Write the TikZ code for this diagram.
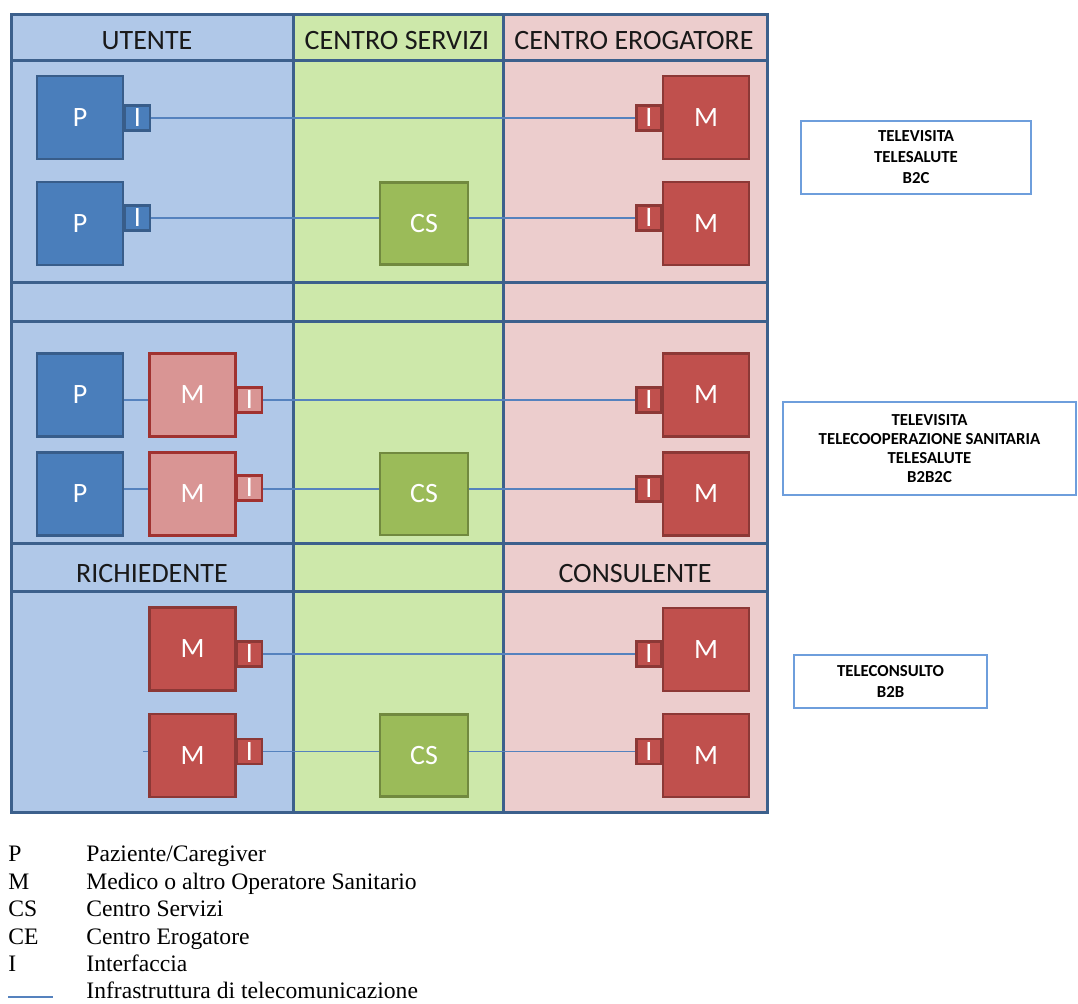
\documentclass[tikz,border=0pt]{standalone}
\usepackage{fontspec}
\setmainfont{Liberation Serif}
\newfontfamily\carl{Carlito}
\definecolor{colblue}{RGB}{176,200,232}
\definecolor{colgreen}{RGB}{205,232,170}
\definecolor{colpink}{RGB}{236,205,205}
\definecolor{gridc}{RGB}{60,96,140}
\definecolor{pfill}{RGB}{74,126,187}
\definecolor{pdraw}{RGB}{56,93,138}
\definecolor{mfill}{RGB}{192,80,77}
\definecolor{mdraw}{RGB}{140,56,54}
\definecolor{mlfill}{RGB}{217,149,148}
\definecolor{mldraw}{RGB}{160,50,48}
\definecolor{csfill}{RGB}{155,187,89}
\definecolor{csdraw}{RGB}{113,137,63}
\definecolor{linkc}{RGB}{85,130,190}
\definecolor{tagc}{RGB}{110,158,220}
\definecolor{headc}{RGB}{25,25,25}
\begin{document}
\begin{tikzpicture}[x=0.5pt,y=-0.5pt,
  box/.style={draw, line width=1.2pt, inner sep=0pt, text=white,
    font=\carl\fontsize{14}{16}\selectfont},
  bigbox/.style={box, minimum width=43pt, minimum height=41.5pt},
  pbox/.style={bigbox, fill=pfill, draw=pdraw},
  mbox/.style={bigbox, fill=mfill, draw=mdraw},
  mlbox/.style={bigbox, fill=mlfill, draw=mldraw},
  csbox/.style={box, fill=csfill, draw=csdraw, minimum width=44pt, minimum height=41pt},
  ibox/.style={box, minimum width=12.5pt, minimum height=12.5pt},
  ipbox/.style={ibox, fill=pfill, draw=pdraw},
  imbox/.style={ibox, fill=mfill, draw=mdraw},
  imlbox/.style={ibox, fill=mlfill, draw=mldraw},
  link/.style={draw=linkc, line width=0.75pt},
  head/.style={anchor=base, text=headc, inner sep=0pt, font=\carl\fontsize{14}{16}\selectfont},
  tag/.style={draw=tagc, line width=1pt, fill=white, align=center, inner sep=0pt,
    font=\carl\bfseries\fontsize{8.4}{10.5}\selectfont},
  leg/.style={anchor=base west, inner sep=0pt, font=\fontsize{11.8}{13}\selectfont}
]
\useasboundingbox (0,0) rectangle (1078,1003);
% columns
\fill[colblue] (11,14) rectangle (293,812);
\fill[colgreen] (293,14) rectangle (503,812);
\fill[colpink] (503,14) rectangle (767,812);
\begin{scope}[draw=gridc, line width=1.5pt]
\draw (11,14) rectangle (767,812);
\draw (293,14) -- (293,812);
\draw (503,14) -- (503,812);
\foreach \yy in {60,282,321,543,591} \draw (11,\yy) -- (767,\yy);
\end{scope}
% headers
\node[head] (hu) at (147,49) {UTENTE};
\node[head] (hcs) at (397,49) {CENTRO SERVIZI};
\node[head] (hce) at (634,49) {CENTRO EROGATORE};
\node[head] (hr) at (152,582) {RICHIEDENTE};
\node[head] (hc) at (635,582) {CONSULENTE};

% ---- section 1, row 1
\node[ipbox] (i1l) at (137.5,118) {I};
\node[pbox] (p1) at (80,117.5) {P};
\node[imbox] (i1r) at (649,118) {I};
\node[mbox] (m1r) at (706,117.5) {M};
\draw[link] (i1l) -- (i1r);
% ---- section 1, row 2
\node[ipbox] (i2l) at (137.5,218) {I};
\node[pbox] (p2) at (80,223.5) {P};
\node[csbox] (cs2) at (424,223.5) {CS};
\node[imbox] (i2r) at (649,218) {I};
\node[mbox] (m2r) at (706,223.5) {M};
\draw[link] (i2l) -- (cs2.west |- i2l);
\draw[link] (cs2.east |- i2l) -- (i2r);

% ---- section 2, row 1
\node[pbox] (p3) at (80,395) {P};
\node[imlbox] (i3l) at (249.5,400) {I};
\node[mlbox] (m3l) at (192.5,395) {M};
\node[imbox] (i3r) at (649,400) {I};
\node[mbox] (m3r) at (706,395) {M};
\draw[link] (p3.east |- i3l) -- (m3l.west |- i3l);
\draw[link] (i3l) -- (i3r);
% ---- section 2, row 2
\node[pbox] (p4) at (80,494) {P};
\node[imlbox] (i4l) at (249.5,488) {I};
\node[mlbox] (m4l) at (192.5,494) {M};
\node[csbox] (cs4) at (424,494) {CS};
\node[imbox] (i4r) at (649,489) {I};
\node[mbox] (m4r) at (706,494) {M};
\draw[link] (p4.east |- i4r) -- (m4l.west |- i4r);
\draw[link] (i4l.east |- i4r) -- (cs4.west |- i4r);
\draw[link] (cs4.east |- i4r) -- (i4r);

% ---- section 3, row 1
\node[imbox] (i5l) at (249.5,654) {I};
\node[mbox] (m5l) at (192.5,649) {M};
\node[imbox] (i5r) at (649,654) {I};
\node[mbox] (m5r) at (706,649.5) {M};
\draw[link] (i5l) -- (i5r);
% ---- section 3, row 2
\coordinate (stub) at (143,751.5);
\node[imbox] (i6l) at (249.5,751.5) {I};
\node[mbox] (m6l) at (192.5,755.5) {M};
\node[csbox] (cs6) at (424,755.5) {CS};
\node[imbox] (i6r) at (649,751.5) {I};
\node[mbox] (m6r) at (706,755.5) {M};
\draw[link] (stub) -- (m6l.west |- stub);
\draw[link] (i6l) -- (cs6.west |- i6l);
\draw[link] (cs6.east |- i6l) -- (i6r);

% ---- tags
\node[tag, minimum width=115pt, minimum height=36.5pt] (t1) at (916,157.5)
  {TELEVISITA\\TELESALUTE\\B2C};
\node[tag, minimum width=146.5pt, minimum height=46.5pt,
  font=\carl\bfseries\fontsize{8.4}{9.5}\selectfont] (t2) at (929.5,448.5)
  {TELEVISITA\\TELECOOPERAZIONE SANITARIA\\TELESALUTE\\B2B2C};
\node[tag, minimum width=96.5pt, minimum height=26.5pt] (t3) at (890.5,681.5)
  {TELECONSULTO\\B2B};

% ---- legend
\node[leg] (k1) at (8,861) {P};
\node[leg] (v1) at (86,861) {Paziente/Caregiver};
\node[leg] (k2) at (8,889) {M};
\node[leg] (v2) at (86,889) {Medico o altro Operatore Sanitario};
\node[leg] (k3) at (8,916) {CS};
\node[leg] (v3) at (86,916) {Centro Servizi};
\node[leg] (k4) at (8,944) {CE};
\node[leg] (v4) at (86,944) {Centro Erogatore};
\node[leg] (k5) at (8,971) {I};
\node[leg] (v5) at (86,971) {Interfaccia};
\coordinate (lg1) at (8,997);
\coordinate (lg2) at (53,997);
\draw[draw=linkc, line width=1pt] (lg1) -- (lg2);
\node[leg] (v6) at (86,998) {Infrastruttura di telecomunicazione};
\end{tikzpicture}
\end{document}
